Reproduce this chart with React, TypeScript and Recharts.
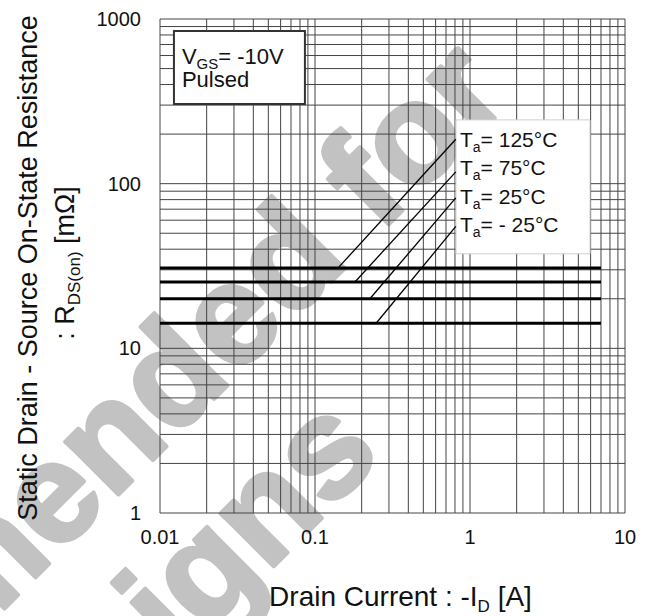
import React from "react";
import { LineChart, Line, XAxis, YAxis, CartesianGrid, ReferenceArea } from "recharts";

// axis ticks (decades) and the minor steps used for the log grid
const xDecades = [0.01, 0.1, 1, 10];
const yDecades = [1, 10, 100, 1000];
const minorSteps = [2, 3, 4, 5, 6, 7, 8, 9];

// R_DS(on) vs I_D, one flat curve per ambient temperature
const tempLabels = ["125", "75", "25", "- 25"];
const rdsOn = [30.8, 25.3, 20, 14.2];
const startCurrent = 0.01;
const endCurrent = 7;

// leader lines from each curve up to its label
const leaderFromCurrent = [0.141, 0.181, 0.226, 0.248];
const leaderToCurrent = 0.81;
const leaderToRds = [186, 118, 82, 55];

const watermark = ["Not recommended for", "new designs"];

const FONT = "'Liberation Sans', Arial, Helvetica, sans-serif";

const buildGrid = (decades: number[]) => {
  const out: number[] = [];
  decades.forEach((d, i) => {
    out.push(d);
    if (i < decades.length - 1) minorSteps.forEach((m) => out.push(+(d * m).toPrecision(3)));
  });
  return out;
};

const xGrid = buildGrid(xDecades);
const yGrid = buildGrid(yDecades);

const flatSeries = rdsOn.map((r) => [
  { id: startCurrent, r },
  { id: endCurrent, r },
]);

const leaderSeries = rdsOn.map((r, i) => [
  { id: leaderFromCurrent[i], r },
  { id: leaderToCurrent, r: leaderToRds[i] },
]);

const fmtX = (v: number) => (xDecades.includes(v) ? String(v) : "");
const fmtY = (v: number) => (yDecades.includes(v) ? String(v) : "");

const XTitle = (props: any) => {
  const vb = props.viewBox || {};
  const cx = vb.x + vb.width / 2 + 8;
  return (
    <text x={cx} y={606} textAnchor="middle" fontSize={28} fontFamily={FONT} fill="#111">
      Drain Current : -I
      <tspan fontSize={17} dy={6}>D</tspan>
      <tspan dy={-6}> [A]</tspan>
    </text>
  );
};

const YTitle = () => (
  <g fontFamily={FONT} fill="#111" fontSize={27}>
    <text x={37} y={268} textAnchor="middle" transform="rotate(-90 37 268)">
      Static Drain - Source On-State Resistance
    </text>
    <text x={74} y={263} textAnchor="middle" transform="rotate(-90 74 263)">
      : R
      <tspan fontSize={17} dy={6}>DS(on)</tspan>
      <tspan dy={-6}> [mΩ]</tspan>
    </text>
  </g>
);

const TempLabels = (props: any) => {
  const vb = props.viewBox || {};
  return (
    <g fontFamily={FONT} fill="#111" fontSize={21}>
      {tempLabels.map((t, i) => (
        <text key={t} x={vb.x + 4} y={vb.y + 27 + i * 28.5}>
          T<tspan fontSize={14} dy={5}>a</tspan>
          <tspan dy={-5}>= {t}°C</tspan>
        </text>
      ))}
    </g>
  );
};

const CondLabel = (props: any) => {
  const vb = props.viewBox || {};
  return (
    <g fontFamily={FONT} fill="#111" fontSize={22}>
      <text x={vb.x + 8} y={vb.y + 33}>
        V<tspan fontSize={15} dy={5}>GS</tspan>
        <tspan dy={-5}>= -10V</tspan>
      </text>
      <text x={vb.x + 8} y={vb.y + 56}>Pulsed</text>
    </g>
  );
};

export default function App() {
  return (
    <div style={{ position: "absolute", left: 0, top: 0, width: 649, height: 616, background: "#fff", overflow: "hidden" }}>
      <svg width={649} height={616} style={{ position: "absolute", left: 0, top: 0 }}>
        <g
          fill="#c2c2c2"
          stroke="#c2c2c2"
          strokeWidth={4}
          strokeLinejoin="round"
          fontFamily={FONT}
          fontWeight="bold"
          fontSize={142}
        >
          <text x={513} y={100} textAnchor="end" transform="rotate(-45 513 100)">
            {watermark[0]}
          </text>
          <text x={384} y={456} textAnchor="end" transform="rotate(-45 384 456)">
            {watermark[1]}
          </text>
        </g>
      </svg>
      <div style={{ position: "absolute", left: 0, top: 0 }}>
        <LineChart width={649} height={616} margin={{ top: 19, right: 24, bottom: 73, left: 0 }}>
          <CartesianGrid stroke="#444" strokeWidth={1} />
          <XAxis
            dataKey="id"
            type="number"
            scale="log"
            domain={[0.01, 10]}
            allowDataOverflow
            ticks={xGrid}
            interval={0}
            tickFormatter={fmtX}
            tickLine={false}
            axisLine={false}
            tickSize={0}
            tickMargin={17}
            height={30}
            tick={{ fontSize: 20, fontFamily: FONT, fill: "#111" }}
            label={XTitle}
          />
          <YAxis
            dataKey="r"
            type="number"
            scale="log"
            domain={[1, 1000]}
            allowDataOverflow
            ticks={yGrid}
            interval={0}
            tickFormatter={fmtY}
            tickLine={false}
            axisLine={false}
            tickSize={0}
            tickMargin={19}
            width={160}
            tick={{ fontSize: 20, fontFamily: FONT, fill: "#111" }}
            label={YTitle}
          />
          <ReferenceArea
            x1={0.0123}
            x2={0.0861}
            y1={305}
            y2={847}
            fill="#fff"
            fillOpacity={1}
            stroke="#333"
            strokeWidth={2}
            label={CondLabel}
          />
          {flatSeries.map((d, i) => (
            <Line
              key={"flat" + i}
              data={d}
              dataKey="r"
              type="linear"
              stroke="#000"
              strokeWidth={3}
              dot={false}
              activeDot={false}
              isAnimationActive={false}
            />
          ))}
          {leaderSeries.map((d, i) => (
            <Line
              key={"lead" + i}
              data={d}
              dataKey="r"
              type="linear"
              stroke="#000"
              strokeWidth={1.3}
              dot={false}
              activeDot={false}
              isAnimationActive={false}
            />
          ))}
          <ReferenceArea
            x1={0.812}
            x2={5.95}
            y1={37.5}
            y2={244}
            fill="#fff"
            fillOpacity={1}
            stroke="#d0d0d0"
            strokeWidth={1}
            label={TempLabels}
          />
        </LineChart>
      </div>
    </div>
  );
}
